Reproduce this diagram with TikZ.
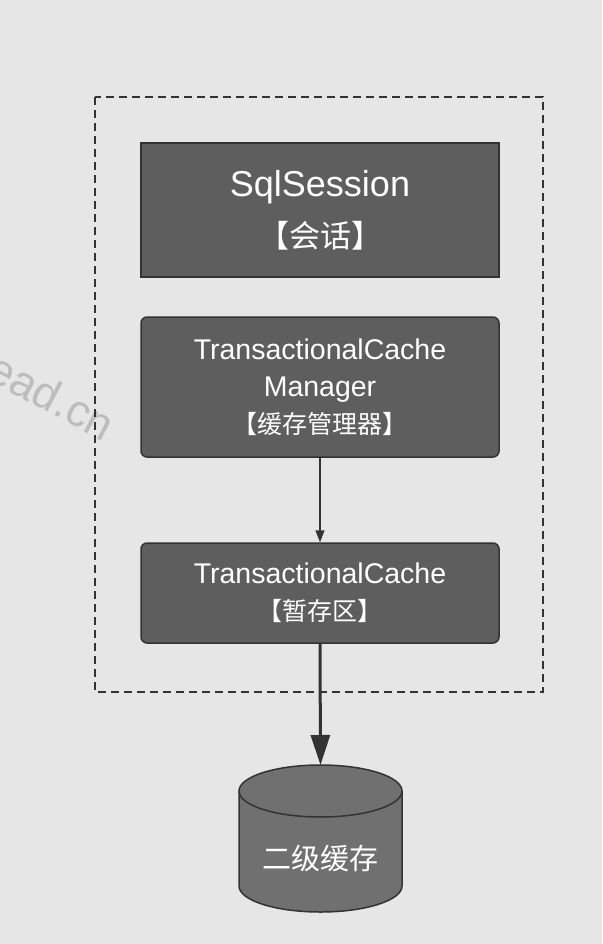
\documentclass[tikz,border=0pt]{standalone}
\usepackage{fontspec}
\setmainfont{Liberation Sans}
\newfontfamily\cjk{Noto Sans CJK SC}
\usetikzlibrary{arrows.meta}
\definecolor{bgc}{HTML}{E6E6E6}
\definecolor{boxc}{HTML}{5E5E5E}
\definecolor{edgec}{HTML}{333333}
\definecolor{cylc}{HTML}{707070}
\definecolor{wmc}{HTML}{BDBDBD}
\tikzset{
  darkbox/.style={draw=edgec, fill=boxc, line width=1.5pt, text=white, align=center, inner sep=0pt},
  thinarrow/.style={draw=edgec, line width=1.5pt, -{Triangle[length=12pt,width=9pt]}},
  thickarrow/.style={draw=edgec, line width=3pt, -{Triangle[length=30pt,width=19pt]}},
}
\begin{document}
\begin{tikzpicture}[x=1pt,y=-1pt]
\useasboundingbox (0,0) rectangle (602,944);
\fill[bgc] (0,0) rectangle (602,944);
% watermark
\node[text=wmc, rotate=-28, font=\fontsize{45}{45}\selectfont, anchor=center] (wm) at (52,396) {ead.cn};
% container
\draw[edgec, line width=1.5pt, dash pattern=on 8pt off 5pt] (95,97) rectangle (543,692);
\node[darkbox, minimum width=358pt, minimum height=134pt, font=\fontsize{36}{51}\selectfont] (sql) at (320,210) {SqlSession\\{\cjk\fontsize{31}{51}\selectfont 【会话】}};
\node[darkbox, rounded corners=6pt, minimum width=358pt, minimum height=140pt, font=\fontsize{28.5}{37}\selectfont] (mgr) at (320,387) {TransactionalCache\\Manager\\{\cjk\fontsize{25}{37}\selectfont 【缓存管理器】}};
\node[darkbox, rounded corners=6pt, minimum width=358pt, minimum height=100pt, font=\fontsize{28.5}{37}\selectfont] (tc) at (320,593) {TransactionalCache\\{\cjk\fontsize{25}{37}\selectfont 【暂存区】}};
% cylinder
\filldraw[fill=cylc, draw=edgec, line width=1.5pt] (239,791) -- (239,886) arc[start angle=180,end angle=0,x radius=81.5,y radius=26] -- (402,791) arc[start angle=0,end angle=-180,x radius=81.5,y radius=26] -- cycle;
\draw[edgec, line width=1.5pt] (239,791) arc[start angle=180,end angle=0,x radius=81.5,y radius=26];
\coordinate (cyltop) at (320.5,765);
\node[text=white, font=\cjk\fontsize{29}{29}\selectfont] (l2) at (320.5,858) {二级缓存};
% arrows
\draw[thinarrow] (mgr.south) -- (tc.north);
\draw[thickarrow] (tc.south) -- (cyltop);
\end{tikzpicture}
\end{document}
